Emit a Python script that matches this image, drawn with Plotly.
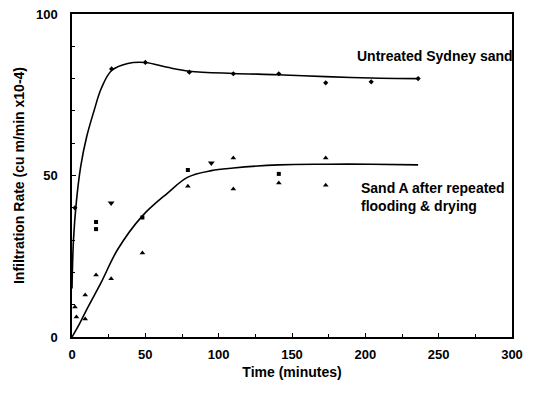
import plotly.graph_objects as go

# Fitted curves
upper_t = [0, 1, 3, 6, 10, 15, 20, 27, 38, 50, 65, 80, 110, 140, 173, 204, 236]
upper_v = [15, 30, 42, 53, 62, 70, 77, 82.5, 84.7, 85, 83.5, 82.3, 81.6, 81.2, 80.6, 80.2, 80]
lower_t = [0, 5, 10, 20, 31, 48, 65, 79, 95, 110, 141, 173, 204, 236]
lower_v = [0, 4, 8.5, 17, 27, 37.5, 44.5, 49.5, 51.5, 52.3, 53.3, 53.5, 53.5, 53.3]

# Observed points - untreated Sydney sand
sydney_t = [2, 27, 50, 80, 110, 141, 173, 204, 236]
sydney_v = [40, 83, 85, 82, 81.5, 81.5, 78.7, 79, 80]

# Observed points - Sand A (several runs)
sandA_up_t = [2, 3, 9, 9, 16.4, 26.7, 48, 79, 110, 110, 141, 173, 173]
sandA_up_v = [9.3, 6.2, 5.6, 13, 19.2, 18, 26, 46.7, 55.4, 45.8, 47.7, 55.4, 47]
sandA_dn_t = [26.7, 95]
sandA_dn_v = [41.5, 53.9]
sandA_other_t = [16.4, 16.4, 48, 79, 141]
sandA_other_v = [35.6, 33.4, 37, 51.7, 50.5]

x_ticks = [0, 50, 100, 150, 200, 250, 300]
y_ticks = [0, 50, 100]

font_family = "Liberation Sans, Arial, sans-serif"

fig = go.Figure()
fig.add_trace(go.Scatter(x=upper_t, y=upper_v, mode="lines",
                         line=dict(color="black", width=1.6, shape="spline", smoothing=1.0)))
fig.add_trace(go.Scatter(x=lower_t, y=lower_v, mode="lines",
                         line=dict(color="black", width=1.6, shape="spline", smoothing=1.0)))
fig.add_trace(go.Scatter(x=sydney_t, y=sydney_v, mode="markers",
                         marker=dict(symbol="diamond", size=4, color="black")))
fig.add_trace(go.Scatter(x=sandA_up_t, y=sandA_up_v, mode="markers",
                         marker=dict(symbol="triangle-up", size=5, color="black")))
fig.add_trace(go.Scatter(x=sandA_dn_t, y=sandA_dn_v, mode="markers",
                         marker=dict(symbol="triangle-down", size=6, color="black")))
fig.add_trace(go.Scatter(x=sandA_other_t, y=sandA_other_v, mode="markers",
                         marker=dict(symbol="square", size=4, color="black")))

fig.add_annotation(x=193, y=87, text="<b>Untreated Sydney sand</b>", showarrow=False,
                   xanchor="left", yanchor="middle", font=dict(size=14, color="black", family=font_family))
fig.add_annotation(x=196, y=43.5, text="<b>Sand A after repeated<br>flooding &amp; drying</b>", showarrow=False,
                   xanchor="left", yanchor="middle", align="left",
                   font=dict(size=14, color="black", family=font_family))

axis_common = dict(showgrid=False, zeroline=False, showline=True, linecolor="black", linewidth=1.5,
                   mirror=True, ticks="inside", ticklen=4, tickcolor="black", automargin=False,
                   ticklabeloverflow="allow",
                   tickfont=dict(size=13, color="black", family=font_family))
fig.update_xaxes(range=[0, 300], tickvals=x_ticks, ticktext=[f"<b>{v}</b>" for v in x_ticks],
                 title=dict(text="<b>Time (minutes)</b>", font=dict(size=14, color="black", family=font_family),
                            standoff=6),
                 ticklabelstandoff=5,
                 minor=dict(ticks="inside", ticklen=3, dtick=25, tickcolor="black"),
                 **axis_common)
fig.update_yaxes(range=[0, 100], tickvals=y_ticks, ticktext=[f"<b>{v}</b>" for v in y_ticks],
                 title=dict(text="<b>Infiltration Rate (cu m/min x10-4)</b>",
                            font=dict(size=14, color="black", family=font_family), standoff=8),
                 ticklabelstandoff=10,
                 minor=dict(ticks="inside", ticklen=3, dtick=10, tickcolor="black"),
                 **axis_common)

fig.update_layout(width=539, height=395, showlegend=False,
                  plot_bgcolor="white", paper_bgcolor="white",
                  margin=dict(l=64, r=35, t=6, b=66))

fig.write_html("out.html")
